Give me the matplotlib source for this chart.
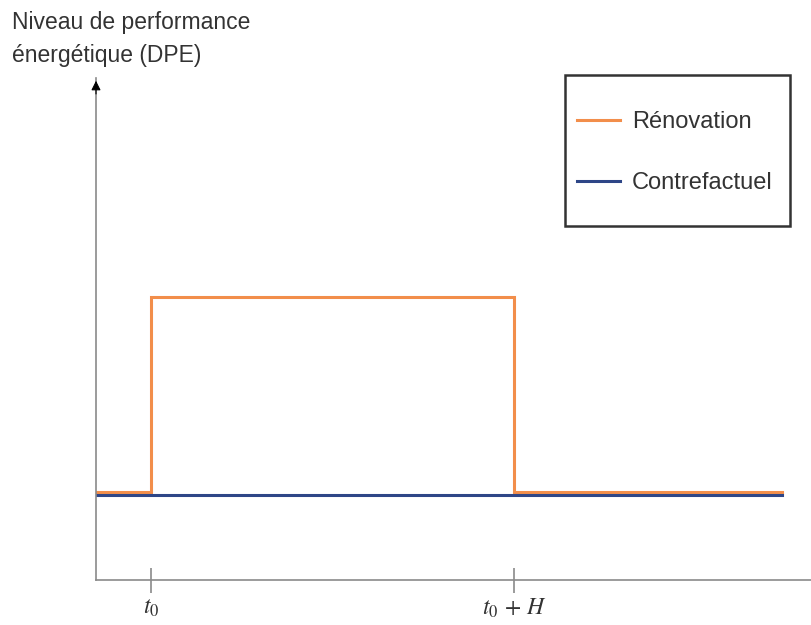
import matplotlib.pyplot as plt
from matplotlib.patches import Rectangle

# time axis (arbitrary units): origin, t0, t0 + H, end of the series
t_renov = [0, 1, 1, 7.6, 7.6, 12.47]
dpe_renov = [1.035, 1.035, 3.33, 3.33, 1.035, 1.035]
t_contre = [0, 12.47]
dpe_contre = [1.0, 1.0]
tick_pos = [1, 7.6]
tick_labels = [r'$t_0$', r'$t_0\,+\,H$']

plt.rcParams['font.family'] = ['Liberation Sans', 'DejaVu Sans']
plt.rcParams['mathtext.fontset'] = 'stix'

fig = plt.figure(figsize=(8.11, 6.25), dpi=100)
ax = fig.add_axes([96 / 811, 45 / 625, 715 / 811, 502 / 625])
ax.set_xlim(0, 13)
ax.set_ylim(0, 5.9)

ax.plot(t_renov, dpe_renov, color='#F28E4B', lw=2.2, label='Rénovation',
        solid_joinstyle='miter')
ax.plot(t_contre, dpe_contre, color='#2E4687', lw=2.2, label='Contrefactuel')

# grey axes, black arrow head on the y axis
for s in ['top', 'right']:
    ax.spines[s].set_visible(False)
for s in ['left', 'bottom']:
    ax.spines[s].set_color('#8a8a8a')
    ax.spines[s].set_linewidth(1.2)
ax.annotate('', xy=(0, 5.9), xytext=(0, 5.68), annotation_clip=False,
            arrowprops=dict(arrowstyle='-|>', color='black', lw=0.8,
                            mutation_scale=14))

ax.set_yticks([])
ax.set_xticks(tick_pos)
ax.set_xticklabels(tick_labels, fontsize=17, color='#333333')
ax.tick_params(axis='x', direction='inout', length=18, width=1.2,
               color='#8a8a8a', pad=3)

fig.text(12 / 811, 1 - 39 / 625, 'Niveau de performance\nénergétique (DPE)',
         fontsize=16.5, color='#333333', va='center', linespacing=1.55)

# legend box drawn separately so its padding can be set freely
fig.add_artist(Rectangle((565 / 811, 1 - 226 / 625), 225 / 811, 151 / 625,
                         transform=fig.transFigure, fill=False,
                         edgecolor='#333333', lw=1.8))
leg = ax.legend(loc='upper left', bbox_to_anchor=(577 / 811, 1 - 111 / 625),
                bbox_transform=fig.transFigure, fontsize=17, frameon=False,
                handlelength=1.82, handletextpad=0.5, labelspacing=1.65,
                borderpad=0, borderaxespad=0)
for t in leg.get_texts():
    t.set_color('#333333')

fig.savefig('out.png', dpi=100)
